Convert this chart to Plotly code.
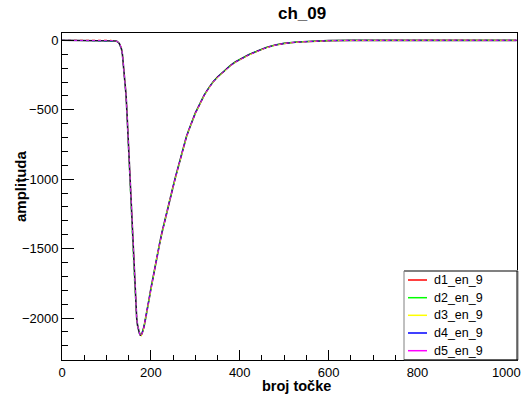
import plotly.graph_objects as go

title_text = "ch_09"
x_title = "broj točke"
y_title = "amplituda"
series_names = ["d1_en_9", "d2_en_9", "d3_en_9", "d4_en_9", "d5_en_9"]
series_colors = ["#ff0000", "#00ff00", "#ffff00", "#0000ff", "#ff00ff"]

sample = [0, 20, 40, 60, 80, 100, 110, 115, 120, 122, 124, 126, 128, 130, 132, 134, 136, 138,
          140, 142, 144, 146, 148, 150, 152, 154, 156, 158, 160, 162, 164, 166, 168, 170, 172,
          174, 176, 178, 180, 182, 184, 186, 188, 190, 193, 196, 200, 205, 210, 215, 220, 225,
          230, 235, 240, 245, 250, 255, 260, 265, 270, 275, 280, 285, 290, 295, 300, 310, 320,
          330, 340, 350, 360, 370, 380, 390, 400, 420, 440, 460, 480, 500, 530, 560, 600, 650,
          700, 750, 800, 850, 900, 950, 1000, 1023]

d1 = [0, 1, 0, -1, 0, 1, 0, -1, -3, -5, -8, -12, -18, -28, -42, -62, -100, -160,
      -225, -295, -384, -505, -639, -783, -937, -1100, -1257, -1401, -1545, -1680, -1800, -1905, -1995, -2050, -2082,
      -2105, -2120, -2126, -2113, -2095, -2070, -2040, -2010, -1975, -1920, -1865, -1790, -1700, -1615, -1535, -1460, -1385,
      -1315, -1245, -1180, -1115, -1055, -990, -930, -865, -800, -745, -695, -650, -610, -565, -525, -460, -395,
      -345, -300, -265, -235, -210, -180, -157, -138, -105, -78, -52, -34, -22, -12, -6, -2, 0,
      1, 0, 1, 0, 1, 0, 1, 0]
d2 = [1, 0, -1, 0, 1, 0, -1, -2, -4, -6, -9, -13, -20, -30, -44, -65, -104, -166,
      -232, -300, -390, -512, -645, -790, -945, -1108, -1265, -1410, -1552, -1688, -1806, -1910, -1998, -2048, -2078,
      -2100, -2113, -2118, -2108, -2090, -2066, -2037, -2006, -1972, -1918, -1862, -1788, -1698, -1612, -1533, -1458, -1383,
      -1313, -1243, -1178, -1113, -1053, -988, -928, -863, -798, -743, -693, -648, -608, -563, -523, -458, -393,
      -343, -298, -263, -233, -208, -178, -155, -136, -103, -76, -51, -33, -21, -11, -5, -1, 1,
      0, 1, 0, 1, 0, 1, 0, 1]
d3 = [0, -1, 1, 0, -1, 0, 1, 0, -2, -4, -7, -11, -17, -27, -40, -60, -98, -158,
      -222, -290, -380, -500, -634, -778, -932, -1095, -1252, -1396, -1540, -1676, -1797, -1903, -1996, -2055, -2090,
      -2115, -2130, -2135, -2120, -2100, -2074, -2044, -2013, -1978, -1923, -1868, -1793, -1703, -1618, -1538, -1463, -1388,
      -1318, -1248, -1183, -1118, -1058, -993, -933, -868, -803, -748, -698, -653, -613, -568, -528, -463, -398,
      -348, -303, -268, -238, -212, -182, -159, -140, -107, -80, -54, -36, -23, -13, -7, -3, -1,
      0, 1, 0, 1, 0, 1, 0, 1]
d4 = [1, 0, 0, 1, 0, -1, 0, -1, -3, -5, -8, -12, -19, -29, -43, -63, -102, -162,
      -228, -297, -387, -508, -642, -786, -940, -1103, -1260, -1404, -1548, -1683, -1803, -1907, -1997, -2052, -2085,
      -2108, -2122, -2124, -2112, -2094, -2068, -2039, -2008, -1974, -1919, -1864, -1789, -1699, -1614, -1534, -1459, -1384,
      -1314, -1244, -1179, -1114, -1054, -989, -929, -864, -799, -744, -694, -649, -609, -564, -524, -459, -394,
      -344, -299, -264, -234, -209, -179, -156, -137, -104, -77, -52, -34, -22, -12, -6, -2, 0,
      1, 0, 0, 1, 0, 0, 1, 0]
d5 = [0, 1, 0, 0, 1, 0, 0, -1, -3, -5, -8, -12, -18, -28, -42, -62, -100, -161,
      -226, -294, -383, -504, -638, -782, -936, -1099, -1256, -1400, -1544, -1679, -1799, -1904, -1994, -2051, -2084,
      -2108, -2124, -2130, -2116, -2096, -2071, -2041, -2011, -1976, -1921, -1866, -1791, -1701, -1616, -1536, -1461, -1386,
      -1316, -1246, -1181, -1116, -1056, -991, -931, -866, -801, -746, -696, -651, -611, -566, -526, -461, -396,
      -346, -301, -266, -236, -211, -181, -158, -139, -106, -79, -53, -35, -22, -12, -6, -2, 0,
      1, 1, 0, 1, 1, 0, 1, 1]

x_ticks = [0, 200, 400, 600, 800, 1000]
y_ticks = [0, -500, -1000, -1500, -2000]

series_values = [d1, d2, d3, d4, d5]

W, H = 524, 396
L, R, T, B = 62, 517, 33, 360
FONT = "Liberation Sans, Arial, Helvetica, sans-serif"


def px(xp):
    return (xp - L) / (R - L)


def py(yp):
    return (B - yp) / (B - T)


fig = go.Figure()
# dark underlay gives the blackish tone of the overlapping markers in the reference
fig.add_trace(go.Scatter(x=sample, y=d4, mode="lines", line=dict(color="#1a1030", width=1.6),
                         showlegend=False, hoverinfo="skip"))
for name, color, vals in zip(series_names, series_colors, series_values):
    fig.add_trace(go.Scatter(
        x=sample, y=vals, name=name, mode="lines",
        line=dict(color=color, width=0.8, dash="dot"),
        showlegend=False,
    ))

axis_common = dict(
    showgrid=False, zeroline=False, showline=True, linecolor="#000000", linewidth=1,
    mirror=True, ticks="inside", tickcolor="#000000", tickwidth=1, automargin=False,
    tickfont=dict(family=FONT, size=13, color="#000000"),
)

fig.update_layout(
    width=W, height=H,
    margin=dict(l=L, r=W - R, t=T, b=H - B, pad=0, autoexpand=False),
    paper_bgcolor="white", plot_bgcolor="white",
    showlegend=False,
    xaxis=dict(range=[0, 1024], tickvals=x_ticks, ticklen=10,
               minor=dict(dtick=50, tick0=0, ticklen=5, ticks="inside", tickcolor="#000000"),
               **axis_common),
    yaxis=dict(range=[-2302, 53], tickvals=y_ticks, ticklen=12,
               minor=dict(dtick=100, tick0=0, ticklen=6, ticks="inside", tickcolor="#000000"),
               **axis_common),
)

annotations = [
    dict(text="<b>%s</b>" % title_text, x=px(302), y=py(14), xref="paper", yref="paper",
         showarrow=False, xanchor="center", yanchor="middle",
         font=dict(family=FONT, size=17, color="#000000")),
    dict(text="<b>%s</b>" % x_title, x=px(296), y=py(386), xref="paper", yref="paper",
         showarrow=False, xanchor="center", yanchor="middle", borderpad=0,
         font=dict(family=FONT, size=14.5, color="#000000")),
    dict(text="<b>%s</b>" % y_title, x=px(20), y=py(187), xref="paper", yref="paper",
         showarrow=False, xanchor="center", yanchor="middle", textangle=-90,
         font=dict(family=FONT, size=15, color="#000000")),
]

shapes = [
    dict(type="rect", xref="paper", yref="paper", x0=px(404), x1=px(518), y0=py(360), y1=py(271),
         line=dict(color="#808080", width=1), fillcolor="white", layer="above"),
    dict(type="line", xref="paper", yref="paper", x0=px(404), x1=px(518), y0=py(271), y1=py(271),
         line=dict(color="#808080", width=2), layer="above"),
    dict(type="line", xref="paper", yref="paper", x0=px(517), x1=px(517), y0=py(360), y1=py(271),
         line=dict(color="#000000", width=1), layer="above"),
    dict(type="line", xref="paper", yref="paper", x0=px(404), x1=px(518), y0=py(360), y1=py(360),
         line=dict(color="#000000", width=1), layer="above"),
]
entry_y = [280, 297.7, 315.3, 333, 350.7]
for name, color, ey in zip(series_names, series_colors, entry_y):
    shapes.append(dict(type="line", xref="paper", yref="paper", x0=px(408), x1=px(427),
                       y0=py(ey), y1=py(ey), line=dict(color=color, width=1.5), layer="above"))
    annotations.append(dict(text=name, x=px(432), y=py(ey), xref="paper", yref="paper",
                            showarrow=False, xanchor="left", yanchor="middle",
                            font=dict(family=FONT, size=12.5, color="#000000")))

fig.update_layout(annotations=annotations, shapes=shapes)
fig.write_html("out.html", config={"displayModeBar": False},
               post_script="document.body.style.margin='0';document.body.style.padding='0';")
